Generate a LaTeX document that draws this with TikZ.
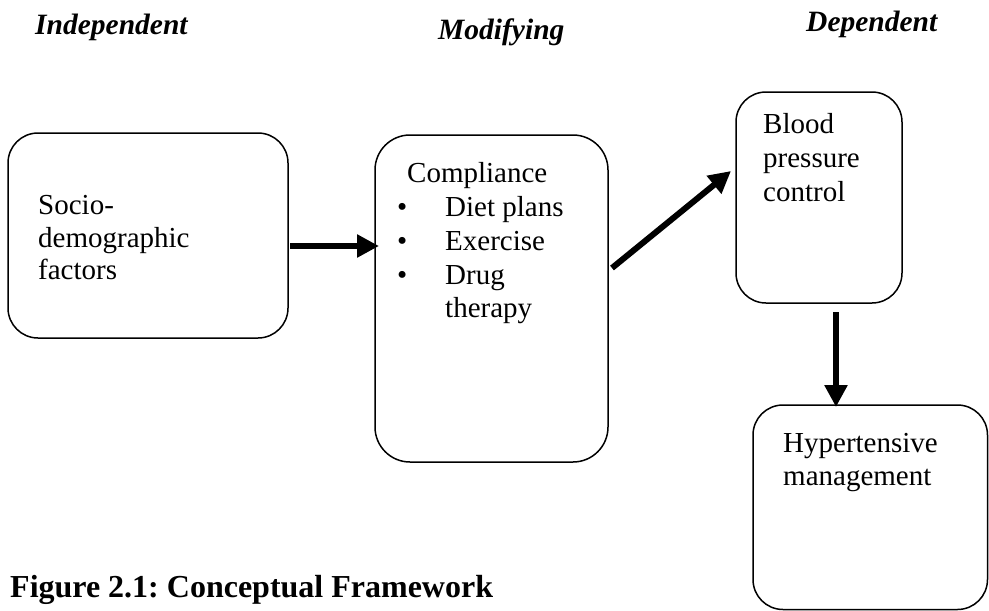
\documentclass[tikz,border=0pt]{standalone}
\usepackage{fontspec}
\setmainfont{Liberation Serif}
\usetikzlibrary{arrows.meta}
\frenchspacing
\begin{document}
\begin{tikzpicture}[x=1pt,y=-1pt,
  box/.style={draw, line width=1.5pt, rounded corners=30pt, inner sep=0pt},
  txt/.style={anchor=base west, inner sep=0pt, font=\fontsize{29}{33}\selectfont},
  head/.style={anchor=base west, inner sep=0pt, font=\fontsize{29.5}{33}\selectfont\bfseries\itshape},
  figcaption/.style={anchor=base west, inner sep=0pt, font=\fontsize{32}{36}\selectfont\bfseries},
  bigarrow/.style={line width=6pt, -{Triangle[length=22pt,width=22pt]}}]
\useasboundingbox (0,0) rectangle (989,611);

% headings
\node[head] (h1) at (35,34) {Independent};
\node[head] (h2) at (438,39) {Modifying};
\node[head] (h3) at (806,31) {Dependent};

% boxes
\node[box, minimum width=280pt, minimum height=205pt] (b1) at (148,235.5) {};
\node[box, rounded corners=35pt, minimum width=233pt, minimum height=327pt] (b2) at (491.5,298.5) {};
\node[box, minimum width=166pt, minimum height=211pt] (b3) at (819,197.5) {};
\node[box, minimum width=234.5pt, minimum height=204.5pt] (b4) at (870.25,507.25) {};

% box 1 text
\node[txt] (t11) at (38,214) {Socio-};
\node[txt] (t12) at (38,247) {demographic};
\node[txt] (t13) at (38,279) {factors};

% box 2 text
\node[txt] (t21) at (407,182) {Compliance};
\node[txt] (p1) at (397,216) {•};
\node[txt] (t22) at (445,216) {Diet plans};
\node[txt] (p2) at (397,250) {•};
\node[txt] (t23) at (445,250) {Exercise};
\node[txt] (p3) at (397,284) {•};
\node[txt] (t24) at (445,284) {Drug};
\node[txt] (t25) at (445,317) {therapy};

% box 3 text
\node[txt] (t31) at (763,133) {Blood};
\node[txt] (t32) at (763,167) {pressure};
\node[txt] (t33) at (763,201) {control};

% box 4 text
\node[txt] (t41) at (783,452) {Hypertensive};
\node[txt] (t42) at (783,485) {management};

% caption
\node[figcaption] (fc) at (10,597) {Figure 2.1: Conceptual Framework};

% arrows
\coordinate (a1s) at (290,246);
\coordinate (a1e) at (379,246);
\coordinate (a2s) at (612,268);
\coordinate (a2e) at (731,171);
\coordinate (a3s) at (836,312);
\coordinate (a3e) at (836,407);
\draw[bigarrow] (a1s) -- (a1e);
\draw[bigarrow] (a2s) -- (a2e);
\draw[bigarrow] (a3s) -- (a3e);
\end{tikzpicture}
\end{document}
